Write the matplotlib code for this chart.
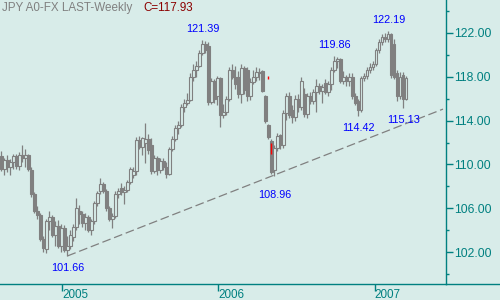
import matplotlib
matplotlib.use("Agg")
import matplotlib.pyplot as plt
import matplotlib.dates as mdates
from matplotlib.lines import Line2D
import numpy as np
import pandas as pd

# ---------------- data ----------------
start_date = "2004-08-13"
opens = [110.8,109.6,110.4,109.8,110.2,110.8,109.9,110.9,110.6,110.9,
         109.5,107.3,105.8,105.4,103.2,102.3,104.8,105.2,103.6,104.4,
         102.6,104.2,102.2,102.6,103.4,104.3,105.8,105.5,104.7,105.2,
         104.0,104.8,106.5,107.6,108.2,107.6,106.0,105.0,105.3,107.3,
         107.9,107.5,107.7,108.4,109.0,109.4,112.2,111.6,112.0,112.3,
         111.8,109.4,110.6,109.5,110.3,109.8,109.1,111.4,112.3,113.3,
         113.6,115.2,115.6,115.9,118.0,118.6,119.0,120.2,121.0,120.8,
         115.7,117.6,116.2,117.9,114.5,114.8,116.0,118.6,118.0,118.0,
         116.4,118.8,118.6,116.2,117.5,118.0,118.4,118.5,116.2,113.6,
         112.1,109.5,111.5,112.7,111.8,114.7,116.2,115.0,114.3,116.0,
         115.2,116.4,114.6,116.2,115.8,116.6,117.2,116.7,117.4,116.6,
         117.3,118.6,119.4,119.6,117.6,118.0,117.6,118.0,116.2,115.8,
         115.0,117.9,118.1,118.6,118.9,119.2,120.4,121.2,121.6,121.4,
         121.9,121.0,118.3,116.2,118.2,116.0]
highs = [111.2,110.6,110.9,110.5,111.0,111.0,111.1,111.8,111.4,111.0,
         109.8,107.5,106.2,105.6,103.5,105.0,105.8,105.4,104.8,104.9,
         104.6,104.5,103.5,104.0,104.6,106.9,106.3,105.8,105.6,105.4,
         105.0,106.7,107.6,108.8,108.4,107.8,106.2,105.6,107.6,107.9,
         108.3,108.0,108.6,109.8,109.8,112.5,112.6,112.5,113.8,112.8,
         112.4,110.9,110.8,110.6,110.6,110.2,111.6,112.6,113.6,114.0,
         115.5,116.0,116.5,118.3,119.2,119.4,120.4,121.39,121.3,121.2,
         117.9,117.8,118.1,118.0,115.5,116.2,118.9,119.2,119.0,118.5,
         119.2,119.0,118.9,117.9,118.6,118.9,118.8,118.6,116.3,113.7,
         112.3,111.8,112.9,112.8,115.0,116.5,116.6,115.4,116.3,116.4,
         118.0,117.0,116.5,116.6,116.9,117.8,117.4,117.3,117.8,117.6,
         118.9,119.86,119.8,119.7,118.5,118.2,118.3,118.3,116.5,116.0,
         118.1,118.3,118.9,119.3,119.4,120.6,121.4,121.9,122.0,122.19,
         122.0,121.4,118.6,118.4,118.4,118.1]
lows = [109.4,109.0,109.3,109.0,109.6,109.6,109.5,110.2,109.8,109.4,
        107.0,105.6,105.0,103.0,102.0,101.9,104.0,103.4,102.6,102.4,
        102.0,102.0,101.66,102.3,103.0,104.0,104.6,104.3,104.0,103.8,
        103.6,104.6,106.2,107.3,107.4,105.8,104.8,104.2,105.1,106.9,
        107.2,106.4,107.5,108.2,108.8,109.0,111.4,110.9,110.1,111.0,
        109.1,109.2,109.0,109.2,109.5,108.8,109.0,111.2,112.1,112.8,
        113.4,114.8,115.4,115.8,117.6,118.0,118.9,120.0,120.2,115.4,
        115.5,115.6,115.4,113.4,114.2,114.5,115.8,117.8,116.9,116.1,
        115.6,116.4,115.8,115.9,117.3,117.6,117.7,116.6,113.8,112.3,
        109.1,108.96,111.2,111.4,111.5,114.1,114.2,113.8,114.0,114.8,
        115.0,114.3,114.2,115.5,115.5,114.8,116.4,115.6,116.4,116.2,
        116.8,118.4,118.8,117.4,117.3,117.2,117.2,116.0,115.4,114.42,
        114.8,117.6,117.8,118.3,118.6,119.0,120.2,120.9,121.2,121.2,
        117.9,117.8,115.8,116.0,115.13,115.9]
closes = [109.6,110.4,109.8,110.2,110.8,109.9,110.9,110.6,110.9,109.6,
          107.3,105.8,105.4,103.2,102.4,104.8,105.2,103.6,104.4,102.6,
          104.2,102.2,102.6,103.6,104.3,106.0,105.5,104.7,105.2,104.0,
          104.8,106.5,107.4,108.2,107.6,106.0,105.0,105.3,107.3,107.6,
          107.5,107.7,108.4,109.6,109.4,112.2,111.6,112.4,112.3,111.3,
          109.4,110.6,109.5,110.3,109.8,109.1,111.4,112.3,113.3,113.6,
          115.2,115.6,115.9,118.0,118.6,119.0,120.2,121.0,120.4,115.7,
          117.6,116.0,117.9,114.5,114.8,116.0,118.6,118.0,117.3,116.4,
          118.8,116.8,116.2,117.5,118.0,118.4,118.3,116.7,114.0,112.5,
          109.3,111.5,112.6,111.8,114.7,116.2,114.5,114.3,116.0,115.2,
          117.6,114.6,116.2,115.8,116.6,117.2,116.7,117.1,116.6,117.3,
          118.6,119.4,119.6,117.6,118.0,117.6,118.0,116.2,115.6,115.0,
          117.9,118.1,118.6,118.9,119.2,120.4,121.2,121.6,121.4,121.9,
          118.2,118.0,116.2,118.0,116.0,117.93]

year_ticks = ["2005-01-01", "2006-01-01", "2007-01-01"]
year_labels = ["2005", "2006", "2007"]
y_major = [102, 106, 110, 114, 118, 122]
y_labels = ["102.00", "106.00", "110.00", "114.00", "118.00", "122.00"]

# annotated extremes: bar index, value, side
ann_idx = [22, 67, 91, 111, 119, 129, 134]
ann_val = [101.66, 121.39, 108.96, 119.86, 114.42, 122.19, 115.13]
ann_side = ["low", "high", "low", "high", "low", "high", "low"]

# trend line: from the 101.66 low, extended to the right edge
trend_idx = [22, 147.2]
trend_val = [101.66, 115.05]

# small red marks (bar index, low, high)
red_idx = [89, 90]
red_lo = [117.75, 111.0]
red_hi = [118.05, 112.0]

title_text = "JPY A0-FX LAST-Weekly"
close_text = "C=117.93"

# ---------------- style ----------------
BG = "#d8ece9"
TEAL = "#008080"
GRAY = "#808080"
BLUE = "#0000ff"
FONT = "Liberation Sans"

plt.rcParams["font.family"] = [FONT, "DejaVu Sans"]

dates = pd.date_range(start_date, periods=len(closes), freq="7D")
xn = mdates.date2num(dates.to_pydatetime())
step = 7.0

def idx2x(i):
    return xn[0] + i * step

fig = plt.figure(figsize=(5, 3), dpi=100, facecolor=BG)
ax = fig.add_axes([0, 16 / 300, 446 / 500, 284 / 300])
ax.set_facecolor(BG)

body_w = step * 0.72
for i in range(len(closes)):
    o, h, l, c = opens[i], highs[i], lows[i], closes[i]
    x = xn[i]
    ax.vlines(x, l, h, color=GRAY, linewidth=0.9, zorder=2)
    bottom = min(o, c)
    height = max(abs(c - o), 0.08)
    face = BG if c >= o else GRAY
    ax.add_patch(plt.Rectangle((x - body_w / 2, bottom), body_w, height,
                               facecolor=face, edgecolor=GRAY, linewidth=0.8, zorder=3))

# red marks
for i, lo, hi in zip(red_idx, red_lo, red_hi):
    ax.vlines(idx2x(i), lo, hi, color="#ff0000", linewidth=1.0, zorder=4)

# trend line
ax.plot([idx2x(v) for v in trend_idx], trend_val, color=GRAY, linewidth=0.9,
        dashes=(7, 3), zorder=1)

# annotations
for i, v, side in zip(ann_idx, ann_val, ann_side):
    if side == "high":
        dy = 11
    else:
        dy = -19 if v < 109.5 and v > 108 else -12
    ax.annotate(f"{v:.2f}", xy=(xn[i], v), xytext=(0, dy), textcoords="offset pixels",
                ha="center", va="center", color=BLUE, fontsize=7.8, family=FONT)

ax.set_xlim(xn[0] - 0.5 * step, xn[0] + 148.2 * step)
ax.set_ylim(99.1, 125.0)

ax.yaxis.tick_right()
ax.set_yticks(y_major)
ax.set_yticklabels(y_labels)
ax.set_yticks(np.arange(100, 125, 2), minor=True)
ax.tick_params(axis="y", which="major", length=5, width=1, color=TEAL, pad=1,
               labelcolor=TEAL, labelsize=8.8, direction="out")
ax.tick_params(axis="y", which="minor", length=2.5, width=1, color=TEAL, direction="out")

ax.set_xticks(mdates.date2num(pd.to_datetime(year_ticks).to_pydatetime()))
ax.set_xticklabels(year_labels)
ax.tick_params(axis="x", which="major", length=5, width=1, color=TEAL, pad=-1.5,
               labelcolor=TEAL, labelsize=8.4, direction="out")
for lbl in ax.get_xticklabels():
    lbl.set_horizontalalignment("left")

for s in ["top", "left"]:
    ax.spines[s].set_visible(False)
for s in ["right", "bottom"]:
    ax.spines[s].set_color(TEAL)
    ax.spines[s].set_linewidth(1)

# bottom axis line extends to the figure's right edge
fig.add_artist(Line2D([446 / 500, 1.0], [16 / 300, 16 / 300], color=TEAL, linewidth=1,
                      transform=fig.transFigure))

fig.text(2 / 500, 1 - 8 / 300, title_text, color=GRAY, fontsize=8.4, va="center", ha="left")
fig.text(143 / 500, 1 - 8 / 300, close_text, color="#8b0000", fontsize=8.4, va="center", ha="left")

fig.savefig("out.png", dpi=100, facecolor=BG)
